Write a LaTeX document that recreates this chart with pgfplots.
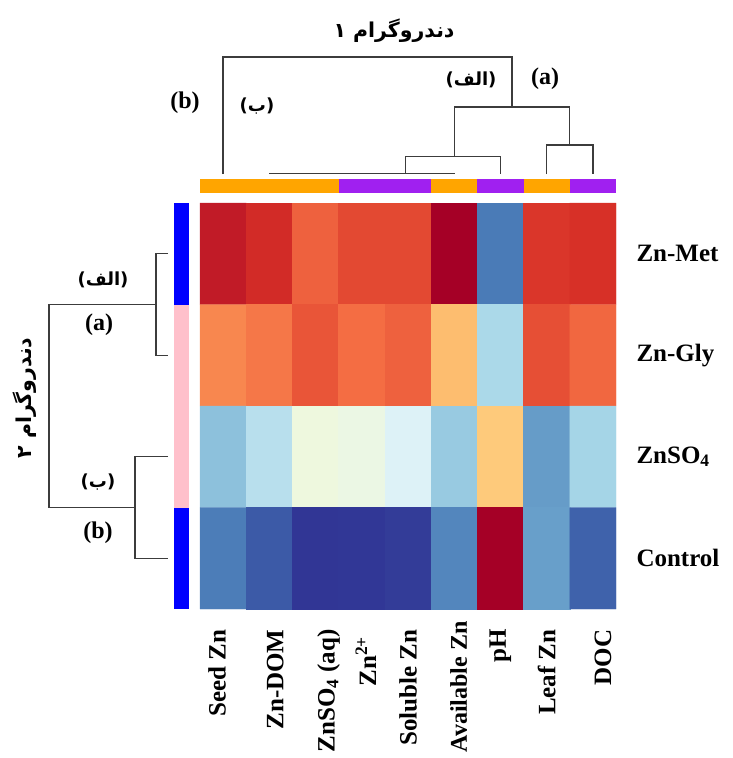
\documentclass[border=0pt]{standalone}
\usepackage{fontspec}
\setmainfont{Liberation Serif}
\newfontfamily\fa[Script=Arabic]{DejaVu Sans}
\newfontfamily\paren{DejaVu Sans}
\TeXXeTstate=1
\usepackage{pgfplots}
\pgfplotsset{compat=1.18}
\usepackage{pgfplotstable}

\definecolor{annOrange}{RGB}{255,165,0}
\definecolor{annPurple}{RGB}{160,32,240}
\definecolor{annBlue}{RGB}{0,0,255}
\definecolor{annPink}{RGB}{255,192,203}
\definecolor{dendro}{RGB}{60,60,60}

% scaled values per cell: 0 = lowest (dark blue), 10 = highest (dark red)
% rows: Zn-Met, Zn-Gly, ZnSO4, Control
\pgfplotstableread{
x y v
0 0 9.45
1 0 9.1
2 0 8.2
3 0 8.6
4 0 8.6
5 0 10
6 0 1.1
7 0 8.9
8 0 9.0
0 1 7.6
1 1 7.85
2 1 8.4
3 1 8.0
4 1 8.2
5 1 6.7
6 1 3.0
7 1 8.5
8 1 8.1
0 2 2.45
1 2 3.25
2 2 4.45
3 2 4.35
4 2 3.95
5 2 2.65
6 2 6.45
7 2 1.7
8 2 2.9
0 3 1.15
1 3 0.57
2 3 0.0
3 3 0.02
4 3 0.1
5 3 1.3
6 3 10
7 3 1.75
8 3 0.7
}\heat

% Persian cluster label in parentheses
\newcommand{\fal}[1]{{\paren(}{\fa\beginR #1\endR}{\paren)}}
% nudge a rotated column label sideways without changing its box
\newcommand{\nudge}[2]{\raisebox{#1}[\height][\depth]{#2}}

\begin{document}
\begin{tikzpicture}
\useasboundingbox (0,0) rectangle (733pt,-758pt);

% heatmap
\begin{axis}[
  at={(200pt,-609pt)}, anchor=south west,
  scale only axis, width=416pt, height=406pt,
  xmin=-0.5, xmax=8.5, ymin=-0.5, ymax=3.5, y dir=reverse,
  enlargelimits=false, clip=false,
  axis line style={draw=none}, major tick length=0pt,
  xtick={0,...,8},
  xticklabels={{\nudge{6pt}{Seed Zn}}, {\nudge{-6pt}{Zn-DOM}},
    {\nudge{-13pt}{ZnSO\textsubscript{4} (aq)}}, {\nudge{-4pt}{Zn\textsuperscript{2+}\hspace*{7pt}}},
    {Soluble Zn}, {\nudge{-4.5pt}{\fontsize{24}{28}\selectfont Available Zn\hspace*{-8pt}}},
    {pH}, {Leaf Zn}, {\nudge{-10pt}{DOC}}},
  xticklabel pos=left,
  xticklabel style={rotate=90, anchor=east, font=\fontsize{25}{30}\selectfont\bfseries},
  xticklabel shift=17pt,
  ytick={0,...,3},
  yticklabels={Zn-Met, Zn-Gly, ZnSO\textsubscript{4}, Control},
  yticklabel pos=right,
  yticklabel style={anchor=west, font=\fontsize{25}{30}\selectfont\bfseries},
  yticklabel shift=17pt,
  colormap={rdylbu}{rgb255=(49,54,149) rgb255=(69,117,180) rgb255=(116,173,209)
    rgb255=(171,217,233) rgb255=(224,243,248) rgb255=(255,255,191) rgb255=(254,224,144)
    rgb255=(253,174,97) rgb255=(244,109,67) rgb255=(215,48,39) rgb255=(165,0,38)},
  point meta min=0, point meta max=10,
]
\addplot[matrix plot*, mesh/cols=9, point meta=explicit] table[meta=v] {\heat};
\end{axis}

% column dendrogram and column annotation
\begin{axis}[
  at={(200pt,-193pt)}, anchor=south west,
  scale only axis, width=416pt, height=136pt,
  xmin=-0.5, xmax=8.5, ymin=-19, ymax=117,
  hide axis, clip=false,
]
\addplot[fill=annOrange, draw=none] coordinates {(-0.5,-5) (2.5,-5) (2.5,-19) (-0.5,-19)} -- cycle;
\addplot[fill=annPurple, draw=none] coordinates {(2.5,-5) (4.5,-5) (4.5,-19) (2.5,-19)} -- cycle;
\addplot[fill=annOrange, draw=none] coordinates {(4.5,-5) (5.5,-5) (5.5,-19) (4.5,-19)} -- cycle;
\addplot[fill=annPurple, draw=none] coordinates {(5.5,-5) (6.5,-5) (6.5,-19) (5.5,-19)} -- cycle;
\addplot[fill=annOrange, draw=none] coordinates {(6.5,-5) (7.5,-5) (7.5,-19) (6.5,-19)} -- cycle;
\addplot[fill=annPurple, draw=none] coordinates {(7.5,-5) (8.5,-5) (8.5,-19) (7.5,-19)} -- cycle;
\addplot[dendro, line width=1.3pt] coordinates {(0,0) (0,117) (6.25,117) (6.25,67)};
\addplot[dendro, line width=1.3pt] coordinates {(5,17.3) (5,67) (7.5,67) (7.5,29)};
\addplot[dendro, line width=1.3pt] coordinates {(3.94,0.7) (3.94,17.3) (6,17.3) (6,0)};
\addplot[dendro, line width=1.3pt] coordinates {(7,0) (7,29) (8,29) (8,0)};
\addplot[dendro, line width=1.3pt] coordinates {(1,0.7) (5.02,0.7)};
\end{axis}

% row dendrogram and row annotation
\begin{axis}[
  at={(49pt,-609pt)}, anchor=south west,
  scale only axis, width=140pt, height=406pt,
  xmin=-21, xmax=119, x dir=reverse,
  ymin=-0.5, ymax=3.5, y dir=reverse,
  hide axis, clip=false,
]
\addplot[fill=annBlue, draw=none] coordinates {(-6,-0.5) (-21,-0.5) (-21,0.5) (-6,0.5)} -- cycle;
\addplot[fill=annPink, draw=none] coordinates {(-6,0.5) (-21,0.5) (-21,2.5) (-6,2.5)} -- cycle;
\addplot[fill=annBlue, draw=none] coordinates {(-6,2.5) (-21,2.5) (-21,3.5) (-6,3.5)} -- cycle;
\addplot[dendro, line width=1.3pt] coordinates {(0,0) (12,0) (12,1) (0,1)};
\addplot[dendro, line width=1.3pt] coordinates {(12,0.5) (119,0.5) (119,2.5) (33,2.5)};
\addplot[dendro, line width=1.3pt] coordinates {(0,2) (33,2) (33,3) (0,3)};
\end{axis}

% dendrogram titles and cluster labels
\node[font=\fontsize{20.5}{24}\selectfont\bfseries] at (394pt,-31pt) {\fa\beginR دندروگرام ۱\endR};
\node[font=\fontsize{20.5}{24}\selectfont\bfseries, rotate=90] at (25pt,-398pt) {\fa\beginR دندروگرام ۲\endR};

\node[font=\fontsize{18}{22}\selectfont\bfseries] at (471pt,-80pt) {\fal{الف}};
\node[font=\fontsize{18}{22}\selectfont\bfseries] at (257pt,-106pt) {\fal{ب}};
\node[font=\fontsize{24}{28}\selectfont\bfseries] at (545pt,-79pt) {(a)};
\node[font=\fontsize{24}{28}\selectfont\bfseries] at (185pt,-103pt) {(b)};

\node[font=\fontsize{18}{22}\selectfont\bfseries] at (103pt,-280pt) {\fal{الف}};
\node[font=\fontsize{24}{28}\selectfont\bfseries] at (99pt,-325pt) {(a)};
\node[font=\fontsize{18}{22}\selectfont\bfseries] at (98pt,-482pt) {\fal{ب}};
\node[font=\fontsize{24}{28}\selectfont\bfseries] at (98pt,-533pt) {(b)};
\end{tikzpicture}
\end{document}
